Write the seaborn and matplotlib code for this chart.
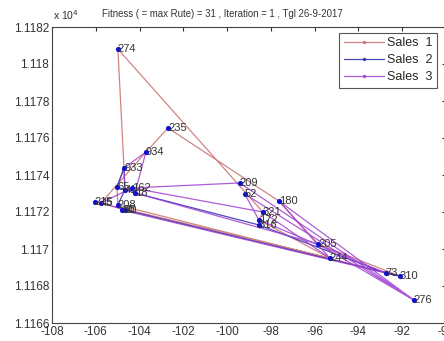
import pandas as pd
import matplotlib
matplotlib.use("Agg")
import matplotlib.pyplot as plt
from matplotlib.ticker import FuncFormatter, MultipleLocator
import seaborn as sns

# --- nodes (x, y in real units, y shown as x 10^4) ---
node_names = ["933", "274", "235", "934", "65", "41", "162", "18", "215", "45",
              "208", "30", "60", "209", "52", "180", "321", "172", "316",
              "205", "244", "73", "310", "276"]
node_x = [-104.71, -104.99, -102.70, -103.71, -105.03, -104.67, -104.35, -104.21,
          -106.04, -105.76, -104.99, -104.67, -104.80, -99.42, -99.19, -97.63,
          -98.37, -98.55, -98.55, -95.85, -95.31, -92.75, -92.11, -91.47]
node_y = [11174.38, 11180.81, 11176.54, 11175.24, 11173.35, 11173.19, 11173.30,
          11173.03, 11172.54, 11172.49, 11172.38, 11172.11, 11172.10, 11173.57,
          11172.97, 11172.59, 11172.00, 11171.57, 11171.30, 11170.27, 11169.51,
          11168.70, 11168.54, 11167.24]

# --- routes per salesman ---
route_1 = ["933", "274", "321", "172", "244", "215", "45", "934", "235", "180",
           "205", "310", "208", "65", "933"]
route_2 = ["933", "65", "18", "316", "73", "310", "30", "60", "208", "41", "933"]
route_3 = ["933", "41", "162", "209", "276", "52", "172", "73", "60", "30", "45",
           "162", "321", "244", "180", "276", "205", "18", "934", "933"]

route_names = ["Sales  1", "Sales  2", "Sales  3"]
route_colors = ["#c8706e", "#2a2ab0", "#a040d0"]

pos = {n: (x, y) for n, x, y in zip(node_names, node_x, node_y)}

sns.set_style("white")
plt.rcParams["font.family"] = ["Liberation Sans", "DejaVu Sans"]
plt.rcParams["axes.unicode_minus"] = False

fig = plt.figure(figsize=(4.44, 3.41), dpi=100)
ax = fig.add_axes([52 / 444, 18 / 341, 394 / 444, 296 / 341])

for name, route, col in zip(route_names, [route_1, route_2, route_3], route_colors):
    df = pd.DataFrame({"x": [pos[n][0] for n in route],
                       "y": [pos[n][1] for n in route],
                       "step": range(len(route))})
    sns.lineplot(data=df, x="x", y="y", sort=False, estimator=None, ax=ax,
                 color=col, linewidth=0.9, alpha=0.85, marker=".", markersize=5,
                 markeredgewidth=0, label=name)

nodes = pd.DataFrame({"x": node_x, "y": node_y, "name": node_names})
sns.scatterplot(data=nodes, x="x", y="y", ax=ax, color="#1010d0", s=14,
                linewidth=0, zorder=5, legend=False)
for n, x, y in zip(node_names, node_x, node_y):
    ax.text(x, y, n, fontsize=8, color="#333333", ha="left", va="center", zorder=6)

ax.set_xlim(-108, -90)
ax.set_ylim(11166, 11182)
ax.xaxis.set_major_locator(MultipleLocator(2))
ax.yaxis.set_major_locator(MultipleLocator(2))
ax.yaxis.set_major_formatter(FuncFormatter(lambda v, p: f"{v / 1e4:g}"))
ax.tick_params(direction="in", top=True, right=True, length=3, labelsize=8.5,
               colors="#333333", pad=2)
ax.set_xlabel("")
ax.set_ylabel("")
for s in ax.spines.values():
    s.set_color("#444444")
    s.set_linewidth(0.8)

fig.text(53 / 444, 1 - 15 / 341, r"x 10$^4$", fontsize=7.5, color="#333333",
         ha="left", va="center")
fig.text(222 / 444, 1 - 14 / 341,
         "Fitness ( = max Rute) = 31 , Iteration = 1 , Tgl 26-9-2017",
         fontsize=6.9, color="#333333", ha="center", va="center")

leg = ax.legend(loc="upper right", bbox_to_anchor=(0.978, 0.98), borderaxespad=0,
                fontsize=9, fancybox=False, framealpha=1, edgecolor="#555555",
                handlelength=3.2, labelspacing=0.4, borderpad=0.35,
                handletextpad=0.3)
leg.get_frame().set_linewidth(0.8)

fig.savefig("out.png", dpi=100)
